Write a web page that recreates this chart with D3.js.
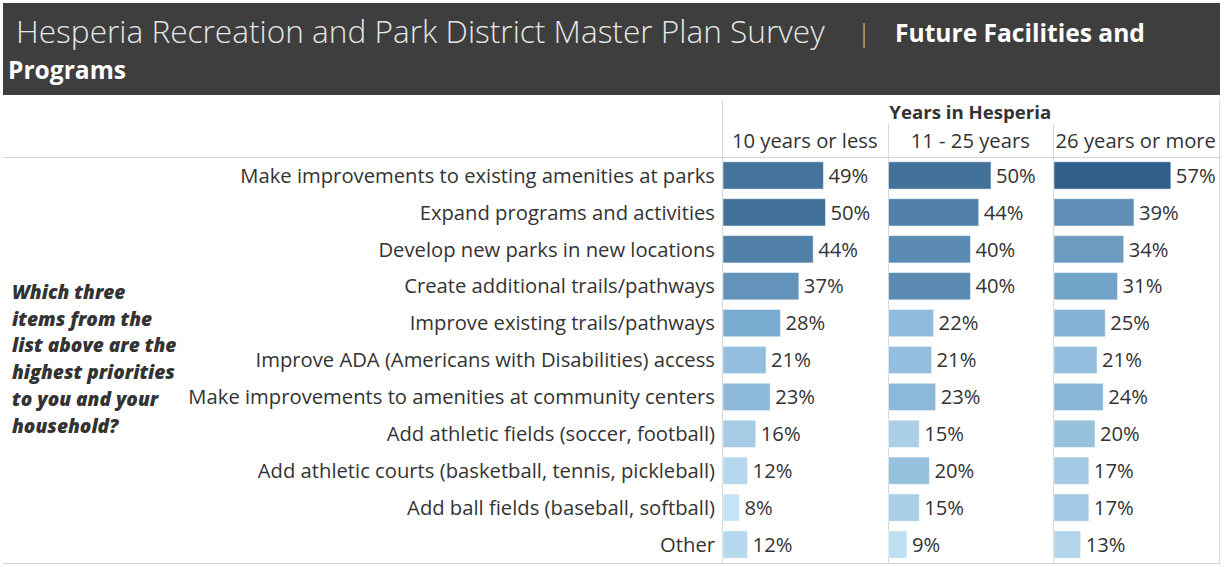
<!DOCTYPE html>
<html><head><meta charset="utf-8">
<script src="https://cdn.jsdelivr.net/npm/d3@7"></script>
<style>
body{margin:0;background:#fff;}
svg{display:block;}
text{font-family:"Open Sans", "Noto Sans", sans-serif;}
</style></head>
<body>
<svg id="chart" width="1225" height="567"></svg>
<script>
const titleMain = "Hesperia Recreation and Park District Master Plan Survey";
const titleSub1 = "Future Facilities and";
const titleSub2 = "Programs";
const groupTitle = "Years in Hesperia";
const groups = ["10 years or less", "11 - 25 years", "26 years or more"];
const categories = [
  "Make improvements to existing amenities at parks",
  "Expand programs and activities",
  "Develop new parks in new locations",
  "Create additional trails/pathways",
  "Improve existing trails/pathways",
  "Improve ADA (Americans with Disabilities) access",
  "Make improvements to amenities at community centers",
  "Add athletic fields (soccer, football)",
  "Add athletic courts (basketball, tennis, pickleball)",
  "Add ball fields (baseball, softball)",
  "Other"
];
const values10orLess = [0.49,0.50,0.44,0.37,0.28,0.21,0.23,0.16,0.12,0.08,0.12];
const values11to25   = [0.50,0.44,0.40,0.40,0.22,0.21,0.23,0.15,0.20,0.15,0.09];
const values26orMore = [0.57,0.39,0.34,0.31,0.25,0.21,0.24,0.20,0.17,0.17,0.13];
const question = ["Which three","items from the","list above are the","highest priorities","to you and your","household?"];

const seriesValues = [values10orLess, values11to25, values26orMore];
const svg = d3.select("#chart");

// scale a text element's font size so its rendered width matches a target width
function fitSize(node, base, target){
  const w = node.getComputedTextLength();
  return base * target / w;
}

// header band
svg.append("rect").attr("x",3).attr("y",3).attr("width",1217).attr("height",92).attr("fill","#3e3e3e");
const t1 = svg.append("text").attr("x",16).attr("y",43).attr("fill","#e6e6e6")
  .style("font-size","26px").style("font-weight",300).text(titleMain);
t1.style("font-size", fitSize(t1.node(),26,809)+"px");
svg.append("text").attr("x",857).attr("y",42).attr("fill","#bdbdbd")
  .style("font-size","26px").style("font-weight",300).text("|");
const t2 = svg.append("text").attr("x",895).attr("y",42).attr("fill","#ffffff")
  .style("font-size","24px").style("font-weight",700).text(titleSub1);
const subSize = fitSize(t2.node(),24,250);
t2.style("font-size", subSize+"px");
svg.append("text").attr("x",8).attr("y",79).attr("fill","#ffffff")
  .style("font-size",subSize+"px").style("font-weight",700).text(titleSub2);

const colStart = 722, colW = 165.5;
const tableTop = 157, tableBottom = 563;
const y = d3.scaleBand().domain(categories).range([tableTop, tableBottom]).paddingInner(0.26).paddingOuter(0.13);
const x = d3.scaleLinear().domain([0,0.8]).range([0,164]);
const color = d3.scaleLinear().domain([0.08,0.28,0.57]).range(["#c4e3f4","#7aabd0","#2f5f8a"]).interpolate(d3.interpolateLab);

const grid = "#d6d6d6";
svg.append("line").attr("x1",3).attr("x2",1221).attr("y1",tableTop+0.5).attr("y2",tableTop+0.5).attr("stroke",grid);
svg.append("line").attr("x1",3).attr("x2",1221).attr("y1",tableBottom+0.5).attr("y2",tableBottom+0.5).attr("stroke",grid);
svg.append("line").attr("x1",colStart+0.5).attr("x2",colStart+0.5).attr("y1",100).attr("y2",tableBottom).attr("stroke",grid);
for (let i=1;i<=3;i++){
  const xx = Math.round(colStart + i*colW)+0.5;
  svg.append("line").attr("x1",xx).attr("x2",xx).attr("y1", i===3?100:124).attr("y2",tableBottom).attr("stroke",grid);
}

// body text size fitted to label width
const probe = svg.append("text").style("font-size","18px").text(categories[0]);
const bodySize = fitSize(probe.node(),18,475);
probe.remove();

const gt = svg.append("text").attr("x",colStart+colW*1.5).attr("y",119).attr("text-anchor","middle")
  .attr("fill","#333").style("font-size","17px").style("font-weight",700).text(groupTitle);
gt.style("font-size", fitSize(gt.node(),17,162)+"px");
groups.forEach((g,i)=>{
  svg.append("text").attr("x",colStart+colW*(i+0.5)).attr("y",148).attr("text-anchor","middle")
    .attr("fill","#333").style("font-size",bodySize+"px").text(g);
});

svg.append("g").selectAll("text").data(categories).join("text")
  .attr("x",715).attr("y",d=>y(d)+y.bandwidth()/2).attr("dy","0.36em").attr("text-anchor","end")
  .attr("fill","#333").style("font-size",bodySize+"px").text(d=>d);

const qg = svg.append("g");
const qt = qg.selectAll("text").data(question).join("text")
  .attr("x",12).attr("y",(d,i)=>299+i*26.7).attr("fill","#333")
  .style("font-size","17px").style("font-weight",800).style("font-style","italic").text(d=>d);
const qSize = fitSize(qt.nodes()[3],17,163);
qt.style("font-size", qSize+"px");

seriesValues.forEach((vals,gi)=>{
  const x0 = colStart + gi*colW + 1;
  const g = svg.append("g");
  g.selectAll("rect").data(vals).join("rect")
    .attr("x",x0).attr("y",(d,i)=>y(categories[i])).attr("height",y.bandwidth())
    .attr("width",d=>x(d)).attr("fill",d=>color(d))
    .attr("stroke","rgba(255,255,255,0.5)").attr("stroke-width",1);
  g.selectAll("text").data(vals).join("text")
    .attr("x",d=>x0+x(d)+5).attr("y",(d,i)=>y(categories[i])+y.bandwidth()/2).attr("dy","0.36em")
    .attr("fill","#333").style("font-size",bodySize+"px").text(d=>d3.format(".0%")(d));
});
</script>
</body></html>
